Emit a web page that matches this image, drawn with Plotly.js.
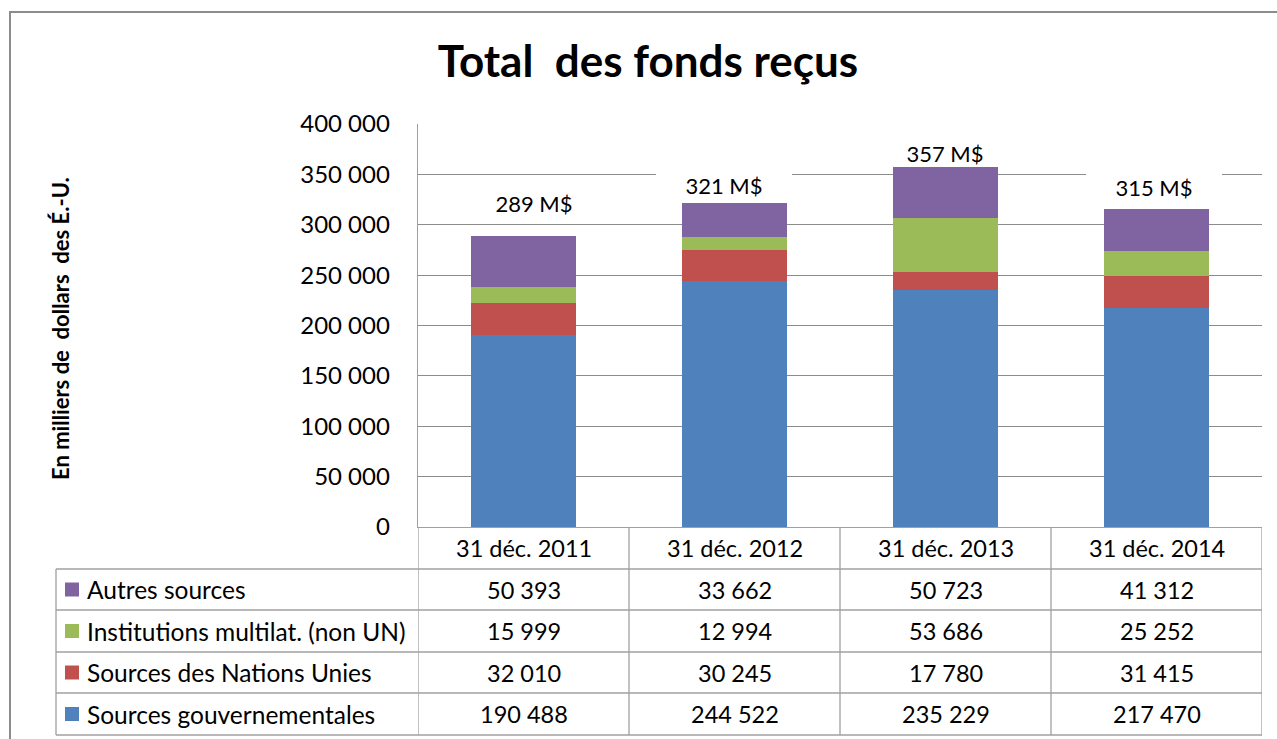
<!DOCTYPE html>
<html>
<head>
<meta charset="utf-8">
<script src="https://cdn.plot.ly/plotly-3.0.1.min.js"></script>
<style>html,body{margin:0;padding:0;background:#fff;}#chart{width:1277px;height:739px;}</style>
</head>
<body>
<div id="chart"></div>
<script>
// ---- data ----
const categories = ['31 déc. 2011', '31 déc. 2012', '31 déc. 2013', '31 déc. 2014'];
const seriesNames = ['Sources gouvernementales', 'Sources des Nations Unies', 'Institutions multilat. (non UN)', 'Autres sources'];
const gouvernementales = [190488, 244522, 235229, 217470];
const nationsUnies = [32010, 30245, 17780, 31415];
const multilat = [15999, 12994, 53686, 25252];
const autres = [50393, 33662, 50723, 41312];
const chartTitle = 'Total \u00a0des fonds reçus';
const yTitle = 'En milliers de \u00a0dollars \u00a0des É.-U.';

// ---- style ----
const colors = ['#4F81BD', '#C0504D', '#9BBB59', '#8064A2'];
const FONT = 'Lato, "Liberation Sans", Arial, sans-serif';
const W = 1277, H = 739;
const M = {l: 418, r: 15, t: 124, b: 212};
const plotW = W - M.l - M.r, plotH = H - M.t - M.b;
const px = v => (v - M.l) / plotW;          // pixel x -> paper
const py = v => (H - M.b - v) / plotH;      // pixel y -> paper
const gridColor = '#8c8c8c', tableColor = '#a0a0a0';

const series = [gouvernementales, nationsUnies, multilat, autres];
const totals = categories.map((c, i) => series.reduce((s, a) => s + a[i], 0));
const fmt = n => String(n).replace(/\B(?=(\d{3})+(?!\d))/g, ' ');

// label offsets (manual placement as in the reference)
const labelShiftY = [33, 18, 14, 22];
const labelShiftX = [10, -11, -1, -3];

const traces = series.map((vals, k) => ({
  type: 'bar', name: seriesNames[k], x: categories, y: vals,
  marker: {color: colors[k], line: {width: 0}}, width: 0.5, hoverinfo: 'skip'
}));

const annotations = [];
const shapes = [];

// totals above bars
categories.forEach((c, i) => {
  annotations.push({
    x: c, y: totals[i], xref: 'x', yref: 'y', text: Math.round(totals[i] / 1000) + ' M$',
    showarrow: false, yanchor: 'middle', xanchor: 'center', yshift: labelShiftY[i], xshift: labelShiftX[i],
    bgcolor: '#ffffff', width: 136, height: 26, borderpad: 0, borderwidth: 0,
    font: {family: FONT, size: 22, color: '#000'}
  });
});

// y-axis title
annotations.push({
  x: px(60), y: py(329), xref: 'paper', yref: 'paper', text: '<b>' + yTitle + '</b>', textangle: -90,
  showarrow: false, xanchor: 'center', yanchor: 'middle', font: {family: FONT, size: 22, color: '#000'}
});

// table rows
const rowEdges = [527, 569, 610, 652, 693, 735];
const rowSeries = [3, 2, 1, 0]; // top row: Autres ... bottom: gouvernementales
// header
categories.forEach((c, i) => {
  annotations.push({x: c, y: py((rowEdges[0] + rowEdges[1]) / 2), xref: 'x', yref: 'paper', text: c,
    showarrow: false, xanchor: 'center', yanchor: 'middle', font: {family: FONT, size: 23.5, color: '#000'}});
});
rowSeries.forEach((k, r) => {
  const yc = py((rowEdges[r + 1] + rowEdges[r + 2]) / 2);
  categories.forEach((c, i) => {
    annotations.push({x: c, y: yc, xref: 'x', yref: 'paper', text: fmt(series[k][i]),
      showarrow: false, xanchor: 'center', yanchor: 'middle', font: {family: FONT, size: 23.5, color: '#000'}});
  });
  annotations.push({x: px(85), y: yc, xref: 'paper', yref: 'paper', text: seriesNames[k],
    showarrow: false, xanchor: 'left', yanchor: 'middle', font: {family: FONT, size: 24.5, color: '#000'}});
  // legend swatch
  const cy = (rowEdges[r + 1] + rowEdges[r + 2]) / 2;
  shapes.push({type: 'rect', xref: 'paper', yref: 'paper', x0: px(65), x1: px(79), y0: py(cy + 7), y1: py(cy - 7),
    fillcolor: colors[k], line: {width: 0}});
});
// horizontal table lines
rowEdges.slice(1).forEach(e => {
  shapes.push({type: 'line', xref: 'paper', yref: 'paper', x0: px(56), x1: 1, y0: py(e), y1: py(e),
    line: {color: tableColor, width: 1.3}});
});
// vertical table lines
for (let i = 0; i <= categories.length; i++) {
  shapes.push({type: 'line', xref: 'x', yref: 'paper', x0: i - 0.5, x1: i - 0.5, y0: 0, y1: py(735),
    line: {color: tableColor, width: 1.3}});
}
shapes.push({type: 'line', xref: 'paper', yref: 'paper', x0: px(56), x1: px(56), y0: py(569), y1: py(735),
  line: {color: tableColor, width: 1.3}});
// outer frame
shapes.push({type: 'rect', xref: 'paper', yref: 'paper', x0: px(10), x1: px(1320), y0: py(800), y1: py(12),
  line: {color: '#8c8c8c', width: 2}, fillcolor: 'rgba(0,0,0,0)'});

const layout = {
  width: W, height: H, margin: M, barmode: 'stack', showlegend: false,
  paper_bgcolor: '#fff', plot_bgcolor: '#fff', separators: ', ',
  title: {text: '<b>' + chartTitle + '</b>', x: 648 / W, xanchor: 'center', y: 1 - 62 / H, yanchor: 'middle',
    font: {family: FONT, size: 44, color: '#000'}},
  xaxis: {type: 'category', range: [-0.5, 3.5], showticklabels: false, ticks: '', showgrid: false,
    showline: true, linecolor: tableColor, linewidth: 1.3, zeroline: false, fixedrange: true},
  yaxis: {range: [0, 400000], dtick: 50000, tickformat: ',d', showgrid: true, gridcolor: gridColor, gridwidth: 1,
    showline: true, linecolor: tableColor, linewidth: 1.3, zeroline: false, ticks: 'outside', ticklen: 22,
    tickcolor: 'rgba(0,0,0,0)', tickfont: {family: FONT, size: 24, color: '#000'}, fixedrange: true},
  annotations: annotations, shapes: shapes
};

Plotly.newPlot('chart', traces, layout, {staticPlot: true, displayModeBar: false});
</script>
</body>
</html>
